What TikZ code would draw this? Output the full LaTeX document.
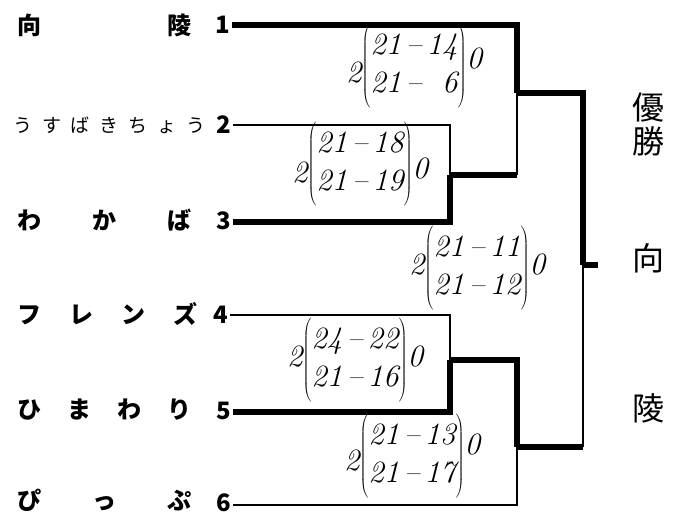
\documentclass[tikz,border=0pt]{standalone}
\usepackage{fontspec}
\newfontfamily\jpfont{Noto Sans CJK JP}
\usepackage{tikz}
\usetikzlibrary{calc}

\newcommand{\dsh}{\hspace{5pt}--\hspace{5pt}}
\newcommand{\tallstrut}{\rule[-30pt]{0pt}{78pt}}

\begin{document}
\begin{tikzpicture}[x=1pt, y=-1pt,
  teamname/.style={font=\jpfont\bfseries\fontsize{24}{24}\selectfont, anchor=west, inner sep=0pt},
  smallname/.style={font=\jpfont\fontsize{19}{19}\selectfont, anchor=west, inner sep=0pt},
  seed/.style={font=\jpfont\bfseries\fontsize{24}{24}\selectfont, anchor=west, inner sep=1.5pt},
  thinline/.style={line width=1.5pt},
  thickline/.style={line width=5.5pt},
  score/.style={font=\itshape\fontsize{31}{38}\selectfont, inner sep=0pt},
  hand/.style={font=\jpfont\fontsize{32}{36}\selectfont, inner sep=0pt, align=center}]
  \useasboundingbox (0,0) rectangle (689,514);

  % --- Teams ---
  \node[teamname] (n1) at (17,25) {\makebox[174pt][s]{向\hfill 陵}};
  \node[smallname] (n2) at (13,125) {\makebox[192pt][s]{う\hfill す\hfill ば\hfill き\hfill ち\hfill ょ\hfill う}};
  \node[teamname] (n3) at (17,220) {\makebox[174pt][s]{わ\hfill か\hfill ば}};
  \node[teamname] (n4) at (17,314) {\makebox[180pt][s]{フ\hfill レ\hfill ン\hfill ズ}};
  \node[teamname] (n5) at (17,410) {\makebox[174pt][s]{ひ\hfill ま\hfill わ\hfill り}};
  \node[teamname] (n6) at (17,500) {\makebox[174pt][s]{ぴ\hfill っ\hfill ぷ}};

  % seed numbers
  \node[seed] (s1) at (214,25) {1};
  \node[seed] (s2) at (215,125) {2};
  \node[seed] (s3) at (215,221) {3};
  \node[seed] (s4) at (212,315) {4};
  \node[seed] (s5) at (215,411) {5};
  \node[seed] (s6) at (215,503) {6};

  % --- Match points ---
  \coordinate (m23) at (450,175);
  \coordinate (m1) at (517,93);
  \coordinate (m45) at (450,360);
  \coordinate (m6) at (517,447);
  \coordinate (fin) at (583,265);
  \coordinate (champ) at (598,265);

  % --- Lines ---
  \draw[thinline] (s2.east) -| (m23);
  \draw[thickline] (s3.east |- 222,222) -| (m23);
  \draw[thickline] (s1.east) -| (m1);
  \draw[thinline] (m1) -- (m23 -| m1);
  \draw[thickline] (m23) -- (m23 -| m1);
  \draw[thickline] (m1) -| (fin);

  \draw[thinline] (s4.east) -| (m45);
  \draw[thickline] (s5.east |- 412,412) -| (m45);
  \draw[thickline] (m45) -| (m6);
  \draw[thinline] (s6.east |- 505,505) -| (m6);
  \draw[thickline] (m6) -- (m6 -| fin);
  \draw[thinline] (m6 -| fin) -- (fin);
  \draw[thickline] (fin) -- (champ);

  % --- Scores ---
  \node[score] (r1) at (414,66) {\raisebox{-10pt}{2}$\left(\tallstrut\begin{tabular}{@{}c@{}}21\dsh14\\21\dsh\phantom{1}6\end{tabular}\right)$\raisebox{4pt}{0}};
  \node[score] (r23) at (360,164) {\raisebox{-12pt}{2}$\left(\tallstrut\begin{tabular}{@{}c@{}}21\dsh18\\21\dsh19\end{tabular}\right)$\raisebox{-8pt}{0}};
  \node[score] (rf) at (477,268) {2$\left(\tallstrut\begin{tabular}{@{}c@{}}21\dsh11\\21\dsh12\end{tabular}\right)$0};
  \node[score] (r45) at (355,360) {2$\left(\tallstrut\begin{tabular}{@{}c@{}}24\dsh22\\21\dsh16\end{tabular}\right)$0};
  \node[score] (r6) at (412,456) {\raisebox{-8pt}{2}$\left(\tallstrut\begin{tabular}{@{}c@{}}21\dsh13\\21\dsh17\end{tabular}\right)$\raisebox{8pt}{0}};

  % --- Champion ---
  \node[hand] (win) at (648,124) {優\\[-2pt]勝};
  \node[hand] (w1) at (648,258) {向};
  \node[hand] (w2) at (648,408) {陵};
\end{tikzpicture}
\end{document}
